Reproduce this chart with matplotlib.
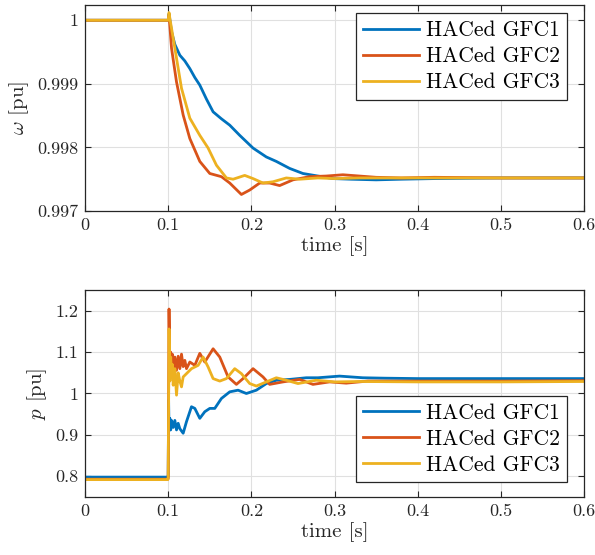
import matplotlib
matplotlib.use('Agg')
import matplotlib.pyplot as plt

plt.rcParams['font.family'] = 'cmr10'
plt.rcParams['mathtext.fontset'] = 'cm'
plt.rcParams['axes.formatter.use_mathtext'] = True

colors = ['#0072BD', '#D95319', '#EDB120']
labels = ['HACed GFC1', 'HACed GFC2', 'HACed GFC3']

# frequency (top panel)
t_w1 = [0, 0.100, 0.101, 0.104, 0.108, 0.114, 0.120, 0.126, 0.132, 0.138, 0.146, 0.154,
        0.164, 0.174, 0.186, 0.202, 0.218, 0.230, 0.246, 0.262, 0.280, 0.298, 0.320,
        0.350, 0.380, 0.420, 0.500, 0.600]
w1 = [1.0, 1.0, 1.00010, 0.99982, 0.99962, 0.99945, 0.99936, 0.99924, 0.99910, 0.99898,
      0.99876, 0.99856, 0.99845, 0.99835, 0.99819, 0.99799, 0.99785, 0.99778, 0.99767,
      0.99759, 0.99755, 0.99751, 0.99750, 0.99749, 0.99750, 0.99751, 0.99752, 0.99752]

t_w2 = [0, 0.100, 0.101, 0.104, 0.110, 0.118, 0.126, 0.138, 0.150, 0.164, 0.174, 0.188,
        0.198, 0.210, 0.222, 0.234, 0.250, 0.270, 0.290, 0.310, 0.330, 0.350, 0.380,
        0.420, 0.500, 0.600]
w2 = [1.0, 1.0, 1.00008, 0.99956, 0.99903, 0.99851, 0.99814, 0.99778, 0.99759, 0.99754,
      0.99744, 0.99726, 0.99733, 0.99744, 0.99744, 0.99740, 0.99749, 0.99754, 0.99755,
      0.99757, 0.99755, 0.99753, 0.99752, 0.99753, 0.99752, 0.99752]

t_w3 = [0, 0.100, 0.101, 0.102, 0.108, 0.116, 0.126, 0.138, 0.148, 0.158, 0.170, 0.178,
        0.192, 0.202, 0.214, 0.226, 0.242, 0.258, 0.280, 0.300, 0.330, 0.400, 0.500, 0.600]
w3 = [1.0, 1.0, 1.00012, 1.00003, 0.99956, 0.99893, 0.99846, 0.99819, 0.99799, 0.99772,
      0.99752, 0.99750, 0.99756, 0.99751, 0.99744, 0.99746, 0.99752, 0.99750, 0.99752,
      0.99751, 0.99752, 0.99752, 0.99752, 0.99752]

# active power (bottom panel)
t_p1 = [0, 0.0995, 0.1, 0.1005, 0.101, 0.102, 0.103, 0.104, 0.106, 0.108, 0.110, 0.112,
        0.114, 0.118, 0.122, 0.128, 0.132, 0.138, 0.144, 0.150, 0.156, 0.164, 0.174, 0.184,
        0.194, 0.206, 0.218, 0.230, 0.246, 0.266, 0.280, 0.306, 0.334, 0.360, 0.400,
        0.500, 0.600]
p1 = [0.798, 0.798, 0.800, 0.984, 0.910, 0.940, 0.912, 0.935, 0.918, 0.935, 0.912, 0.928,
      0.915, 0.904, 0.932, 0.968, 0.964, 0.940, 0.956, 0.964, 0.964, 0.988, 1.004, 1.008,
      1.000, 1.008, 1.024, 1.032, 1.034, 1.038, 1.038, 1.042, 1.038, 1.037, 1.036,
      1.036, 1.036]

t_p2 = [0, 0.0995, 0.1, 0.101, 0.102, 0.103, 0.104, 0.105, 0.106, 0.108, 0.110, 0.112,
        0.114, 0.116, 0.118, 0.120, 0.122, 0.126, 0.132, 0.138, 0.144, 0.154, 0.162, 0.172,
        0.182, 0.190, 0.202, 0.214, 0.222, 0.238, 0.258, 0.274, 0.294, 0.314, 0.340,
        0.400, 0.500, 0.600]
p2 = [0.793, 0.793, 0.795, 1.204, 1.060, 1.100, 1.050, 1.095, 1.048, 1.088, 1.056, 1.090,
      1.060, 1.095, 1.065, 1.080, 1.060, 1.076, 1.068, 1.097, 1.076, 1.108, 1.088, 1.040,
      1.022, 1.036, 1.060, 1.040, 1.022, 1.028, 1.034, 1.022, 1.028, 1.025, 1.030,
      1.030, 1.030, 1.031]

t_p3 = [0, 0.0995, 0.1, 0.101, 0.102, 0.103, 0.104, 0.105, 0.106, 0.108, 0.110, 0.112,
        0.114, 0.116, 0.118, 0.122, 0.128, 0.136, 0.142, 0.148, 0.154, 0.162, 0.170, 0.180,
        0.188, 0.198, 0.206, 0.218, 0.230, 0.242, 0.256, 0.278, 0.300, 0.330, 0.400,
        0.500, 0.600]
p3 = [0.792, 0.792, 0.794, 1.156, 1.030, 1.088, 1.040, 1.070, 1.020, 1.060, 0.996, 1.050,
      1.030, 1.016, 1.040, 1.048, 1.060, 1.068, 1.088, 1.064, 1.036, 1.030, 1.036, 1.060,
      1.048, 1.024, 1.018, 1.028, 1.038, 1.032, 1.024, 1.032, 1.028, 1.029, 1.028,
      1.028, 1.029]

x_ticks = [0, 0.1, 0.2, 0.3, 0.4, 0.5, 0.6]
x_ticklabels = ['0', '0.1', '0.2', '0.3', '0.4', '0.5', '0.6']
w_ticks = [0.997, 0.998, 0.999, 1.0]
w_ticklabels = ['0.997', '0.998', '0.999', '1']
p_ticks = [0.8, 0.9, 1.0, 1.1, 1.2]
p_ticklabels = ['0.8', '0.9', '1', '1.1', '1.2']

fig = plt.figure(figsize=(5.95, 5.55), dpi=100)
ax1 = fig.add_axes([0.1429, 0.6198, 0.8387, 0.3712])
ax2 = fig.add_axes([0.1429, 0.1045, 0.8387, 0.3730])

for t, y, c, l in zip([t_w1, t_w2, t_w3], [w1, w2, w3], colors, labels):
    ax1.plot(t, y, color=c, lw=2, label=l)
for t, y, c, l in zip([t_p1, t_p2, t_p3], [p1, p2, p3], colors, labels):
    ax2.plot(t, y, color=c, lw=2, label=l)

ax1.set_ylim(0.997, 1.00024)
ax1.set_yticks(w_ticks)
ax1.set_yticklabels(w_ticklabels)
ax1.set_ylabel(r'$\omega$ [pu]', fontsize=15)

ax2.set_ylim(0.75, 1.25)
ax2.set_yticks(p_ticks)
ax2.set_yticklabels(p_ticklabels)
ax2.set_ylabel(r'$p$ [pu]', fontsize=15)

for ax in (ax1, ax2):
    ax.set_xlim(0, 0.6)
    ax.set_xticks(x_ticks)
    ax.set_xticklabels(x_ticklabels)
    ax.set_xlabel('time [s]', fontsize=15, labelpad=2, color='#262626')
    ax.yaxis.label.set_color('#262626')
    ax.grid(True, color='#e0e0e0', lw=0.8)
    ax.set_axisbelow(True)
    ax.tick_params(direction='in', top=True, right=True, labelsize=13,
                   color='#262626', labelcolor='#262626', length=4, width=0.8, pad=5)
    for s in ax.spines.values():
        s.set_color('#262626')
        s.set_linewidth(0.9)

leg_kw = dict(fontsize=15.5, handlelength=2.6, handletextpad=0.3, labelspacing=0.3,
              borderpad=0.35, borderaxespad=0, fancybox=False, framealpha=1,
              edgecolor='#262626')
l1 = ax1.legend(loc='upper right', bbox_to_anchor=(0.966, 0.960), **leg_kw)
l2 = ax2.legend(loc='lower right', bbox_to_anchor=(0.966, 0.071), **leg_kw)
for l in (l1, l2):
    l.get_frame().set_linewidth(0.9)

fig.savefig('out.png', dpi=100)
